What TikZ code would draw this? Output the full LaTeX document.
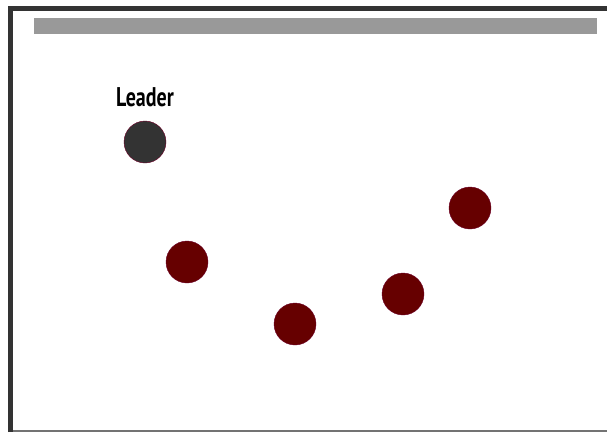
\documentclass[tikz,border=0pt]{standalone}
\usepackage{fontspec}
\setmainfont{PT Sans}[FakeStretch=0.74]
\usepackage{xcolor}
\definecolor{framegray}{RGB}{51,51,51}
\definecolor{bargray}{RGB}{153,153,153}
\definecolor{leaderfill}{RGB}{51,51,51}
\definecolor{agentfill}{RGB}{102,0,0}
\definecolor{agentline}{RGB}{110,0,40}
\usepackage{tikz}

\begin{document}
\begin{tikzpicture}[x=1pt,y=-1pt,
leader/.style={circle,draw=agentline,thin,fill=leaderfill,minimum size=42pt,inner sep=0pt},
agent/.style={circle,draw=agentline,thin,fill=agentfill,minimum size=42pt,inner sep=0pt},
lbl/.style={font=\fontsize{27}{27}\selectfont\bfseries,text=black,inner sep=0pt}]
\useasboundingbox (0,0) rectangle (607,432);
\fill[white] (0,0) rectangle (607,432);
\draw[framegray,line width=5pt] (10.5,432)--(10.5,8.5)--(607,8.5);
\draw[black!55,line width=1.5pt] (13,430.8)--(607,430.8);
\fill[bargray] (34,18) rectangle (597,34);
\node[leader] (ld) at (145,142) {};
\node[lbl] (ldlbl) at (145,97) {Leader};
\node[agent] (a1) at (187,262) {};
\node[agent] (a2) at (295,324) {};
\node[agent] (a3) at (403,294) {};
\node[agent] (a4) at (470,208) {};
\end{tikzpicture}
\end{document}
